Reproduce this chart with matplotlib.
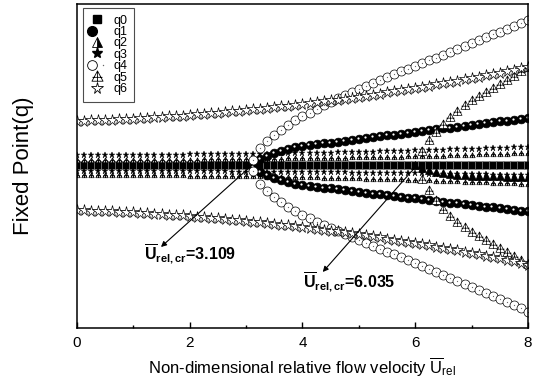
import numpy as np
import matplotlib
matplotlib.use("Agg")
import matplotlib.pyplot as plt
from matplotlib.path import Path
from matplotlib.lines import Line2D
from matplotlib.legend_handler import HandlerTuple
from matplotlib.transforms import offset_copy

plt.rcParams["font.family"] = ["Liberation Sans", "DejaVu Sans"]
plt.rcParams["mathtext.fontset"] = "custom"
plt.rcParams["mathtext.rm"] = "Liberation Sans"
plt.rcParams["mathtext.it"] = "Liberation Sans:italic"
plt.rcParams["mathtext.bf"] = "Liberation Sans:bold"

# non-dimensional relative flow velocity, sampled every 1/8
u = np.linspace(0, 8, 65)
crit = [3.109, 6.035]

# fixed points (arbitrary units)
q0 = [0] * 65
q3_up = [10, 10, 10, 10, 10, 10, 10, 10, 10,
         10, 10, 10, 10, 10, 10, 10, 11,
         11, 11, 11, 11, 11, 11, 11, 11,
         11, 11, 11, 12, 12, 12, 12, 12,
         12, 12, 12, 12, 13, 13, 13, 13,
         13, 13, 14, 14, 14, 14, 14, 15,
         15, 15, 15, 15, 16, 16, 16, 16,
         16, 17, 17, 17, 17, 18, 18, 18]
q3_lo = [-6, -6, -6, -6, -6, -6, -6, -6, -6,
         -6, -6, -6, -6, -6, -6, -6, -6,
         -6, -6, -6, -6, -6, -7, -7, -7,
         -7, -7, -7, -7, -7, -7, -7, -7,
         -7, -7, -7, -7, -7, -7, -8, -8,
         -8, -8, -8, -8, -8, -8, -8, -8,
         -8, -9, -9, -9, -9, -9, -9, -9,
         -9, -9, -10, -10, -10, -10, -10, -10]
q5_up = [5, 5, 5, 5, 5, 5, 5, 5, 5,
         5, 5, 5, 5, 5, 5, 5, 5,
         5, 6, 6, 6, 6, 6, 6, 6,
         6, 6, 6, 6, 6, 7, 7, 7,
         7, 7, 7, 7, 7, 7, 8, 8,
         8, 8, 8, 8, 8, 8, 9, 9,
         9, 9, 9, 9, 10, 10, 10, 10,
         11, 11, 11, 11, 11, 12, 12, 12]
q5_lo = [-10, -10, -10, -10, -10, -10, -10, -10, -10,
         -10, -10, -10, -10, -10, -10, -10, -11,
         -11, -11, -11, -11, -11, -11, -11, -11,
         -11, -11, -12, -12, -12, -12, -12, -12,
         -12, -12, -13, -13, -13, -13, -13, -13,
         -14, -14, -14, -14, -14, -14, -15, -15,
         -15, -15, -16, -16, -16, -16, -17, -17,
         -17, -17, -18, -18, -18, -18, -19, -19]
q6_up = [44, 44, 45, 45, 45, 45, 46, 46, 46,
         47, 47, 48, 48, 49, 49, 49, 50,
         51, 51, 52, 52, 53, 54, 54, 55,
         56, 56, 57, 58, 59, 59, 60, 61,
         62, 63, 64, 65, 65, 66, 67, 68,
         69, 70, 71, 73, 74, 75, 76, 77,
         78, 79, 81, 82, 83, 84, 86, 87,
         88, 90, 91, 92, 94, 95, 97, 98]
q6_lo = [-45, -45, -46, -46, -46, -46, -47, -47, -47,
         -48, -48, -49, -49, -50, -50, -50, -51,
         -52, -52, -53, -53, -54, -55, -55, -56,
         -57, -57, -58, -59, -60, -60, -61, -62,
         -63, -64, -65, -66, -66, -67, -68, -69,
         -70, -71, -72, -74, -75, -76, -77, -78,
         -79, -80, -82, -83, -84, -85, -87, -88,
         -89, -91, -92, -93, -95, -96, -98, -100]
# branches born at the first critical velocity (from u = 3.125)
q1_up = [2, 6, 9, 12, 14, 16, 18, 19, 20, 21, 22, 22, 23, 24, 25, 26,
         27, 28, 29, 30, 30, 31, 32, 33, 34, 35, 36, 37, 37, 38, 39, 40,
         41, 42, 43, 44, 44, 45, 46, 47]
q1_lo = [-2, -7, -10, -13, -15, -17, -19, -20, -21, -22, -23, -23, -24, -25, -26, -27,
         -28, -29, -29, -30, -31, -32, -33, -33, -34, -35, -36, -37, -38, -38, -39, -40,
         -41, -42, -42, -43, -44, -45, -46, -46]
q4_up = [5, 17, 24, 30, 35, 40, 45, 49, 52, 56, 60, 63, 67, 70, 73, 76,
         79, 82, 85, 88, 91, 94, 96, 99, 102, 105, 107, 110, 113, 116, 119, 122,
         125, 128, 131, 133, 136, 139, 142, 145]
q4_lo = [-6, -19, -26, -32, -37, -42, -46, -50, -53, -57, -60, -63, -66, -69, -72, -75,
         -78, -81, -84, -87, -89, -92, -95, -98, -101, -104, -107, -110, -113, -116, -119, -122,
         -125, -128, -131, -134, -137, -140, -143, -147]
# branches born at the second critical velocity
q2_lo = [0, -3, -5, -7, -8, -9, -10, -10, -11, -11, -11, -11, -11, -12, -12, -12, -12]  # from u = 6.0
q5b_up = [14, 25, 33, 41, 48, 54, 60, 65, 69, 73, 77, 81, 85, 89, 94, 98]  # from u = 6.125
q5b_lo = [-14, -25, -35, -44, -51, -57, -62, -67, -71, -75, -79, -83, -87, -91, -95, -99]

# triangle with a cross inside
xtri = Path([(-1, -0.85), (1, -0.85), (0, 1), (-1, -0.85),
             (0, 1), (0, -0.85), (-0.9, -0.15), (0.9, -0.15)],
            [Path.MOVETO, Path.LINETO, Path.LINETO, Path.CLOSEPOLY,
             Path.MOVETO, Path.LINETO, Path.MOVETO, Path.LINETO])

fig = plt.figure(figsize=(5.44, 3.86), dpi=100)
ax = fig.add_axes([0.1415, 0.1503, 0.829, 0.8394])

s_b = slice(25, None)
s_q2 = slice(48, None)
s_q5 = slice(49, None)

# q0
ax.plot(u, q0, ls="none", marker="s", ms=5.5, mfc="black", mec="0.55", mew=0.5)
# q3 / q5 close to the trivial branch
for yy in (q5_up, q5_lo):
    ax.plot(u, yy, ls="none", marker=xtri, ms=3.8, mfc="white", mec="black", mew=0.5)
for yy in (q3_up, q3_lo):
    ax.plot(u, yy, ls="none", marker="*", ms=5, mfc="black", mec="black", mew=0.3)
# q2
ax.plot(u[s_q2], q2_lo, ls="none", marker="^", ms=6, mfc="black", mec="black", mew=0.5)
# q1 balls with highlight
hl = offset_copy(ax.transData, fig=fig, x=-0.9, y=0.9, units="points")
for yy in (q1_up, q1_lo):
    ax.plot(u[s_b], yy, ls="none", marker="o", ms=6.3, mfc="black", mec="black", mew=0.5)
    ax.plot(u[s_b], yy, ls="none", marker="o", ms=1.6, mfc="white", mec="none", transform=hl)
# q4
for yy in (q4_up, q4_lo):
    ax.plot(u[s_b], yy, ls="none", marker="o", ms=6.5, mfc="white", mec="black", mew=0.5)
    ax.plot(u[s_b], yy, ls="none", marker="o", ms=0.9, mfc="0.4", mec="none")
# q5 outer branches
for yy in (q5b_up, q5b_lo):
    ax.plot(u[s_q5], yy, ls="none", marker=xtri, ms=6.5, mfc="white", mec="black", mew=0.5)
# q6
for yy in (q6_up, q6_lo):
    ax.plot(u, yy, ls="none", marker="*", ms=8.5, mfc="white", mec="black", mew=0.5)

ax.set_xlim(0, 8)
ax.set_ylim(-163, 161)
ax.set_xticks([0, 2, 4, 6, 8])
ax.set_xticks([1, 3, 5, 7], minor=True)
ax.set_yticks([])
ax.tick_params(axis="x", which="major", direction="in", length=4, width=1, labelsize=11, pad=6)
ax.tick_params(axis="x", which="minor", direction="in", length=2.5, width=1)
for sp in ax.spines.values():
    sp.set_linewidth(1.1)

ax.set_xlabel(r"Non-dimensional relative flow velocity $\overline{\mathrm{U}}_{\mathrm{rel}}$", fontsize=12)
ax.xaxis.set_label_coords(0.5, -0.085)
ax.set_ylabel("Fixed Point(q)", fontsize=16)
ax.yaxis.set_label_coords(-0.095, 0.5)

# critical velocity annotations
arrow = dict(arrowstyle="-|>", color="black", lw=0.8, mutation_scale=8, shrinkA=0, shrinkB=0)
ax.annotate("", xy=(1.49, -82), xytext=(crit[0], 0), arrowprops=arrow)
ax.annotate("", xy=(4.36, -107), xytext=(crit[1], 0), arrowprops=arrow)
lab = r"$\overline{\mathbf{U}}_{\mathbf{rel,cr}}$="
ax.text(1.19, -95, lab + f"{crit[0]:.3f}", fontsize=11.5, fontweight="bold", va="baseline")
ax.text(4.01, -123, lab + f"{crit[1]:.3f}", fontsize=11.5, fontweight="bold", va="baseline")

# legend
hq0 = Line2D([], [], ls="none", marker="s", ms=6, mfc="black", mec="black")
hq1 = (Line2D([], [], ls="none", marker="o", ms=7, mfc="black", mec="black"),
       Line2D([], [], ls="none", marker="o", ms=2, mfc="white", mec="none"))
hq2 = Line2D([], [], ls="none", marker="^", ms=7, mfc="black", mfcalt="white",
             fillstyle="right", mec="black", mew=0.6)
hq3 = Line2D([], [], ls="none", marker="*", ms=8, mfc="black", mec="black")
hq4 = (Line2D([], [], ls="none", marker="o", ms=7, mfc="white", mec="black", mew=0.6),
       Line2D([], [], ls="none", marker="o", ms=1, mfc="0.4", mec="none"))
hq5 = Line2D([], [], ls="none", marker=xtri, ms=8, mfc="white", mec="black", mew=0.6)
hq6 = Line2D([], [], ls="none", marker="*", ms=8.5, mfc="white", mec="black", mew=0.6)
leg = ax.legend([hq0, hq1, hq2, hq3, hq4, hq5, hq6],
                ["q0", "q1", "q2", "q3", "q4", "q5", "q6"],
                handler_map={tuple: HandlerTuple(ndivide=None)},
                loc="upper left", bbox_to_anchor=(0.013, 0.988), borderaxespad=0,
                fontsize=9, labelspacing=-0.05, handlelength=1.2, handletextpad=0.7,
                borderpad=0.55, fancybox=False, framealpha=1, edgecolor="0.3")
leg.get_frame().set_linewidth(0.8)

fig.savefig("out.png", dpi=100)
